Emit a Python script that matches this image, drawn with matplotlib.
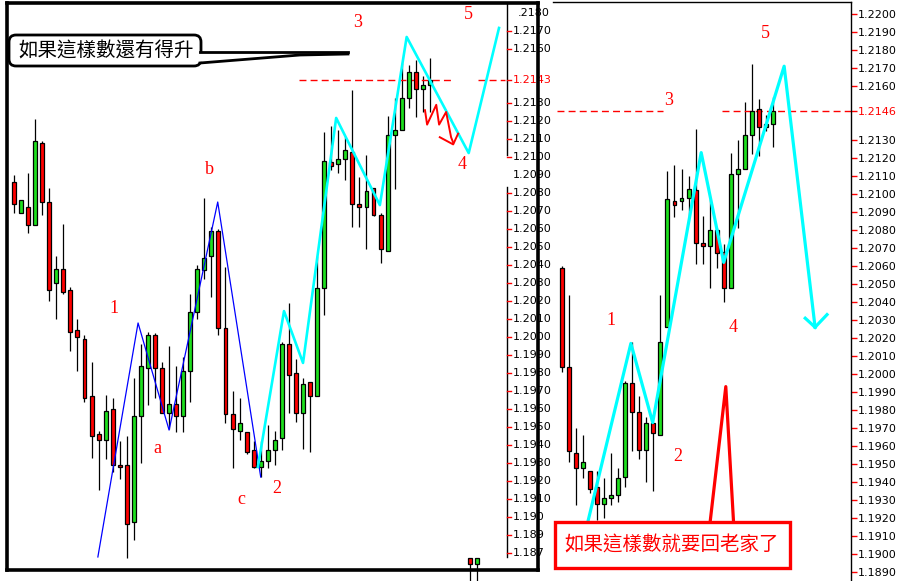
import matplotlib
matplotlib.use("Agg")
import matplotlib.pyplot as plt
import matplotlib.transforms as mtransforms
from matplotlib.patches import FancyBboxPatch, Polygon, Rectangle

# ------------ data ------------

# left chart, bars oldest -> newest
left_open = [1.2086, 1.2069, 1.2072, 1.2062, 1.2108, 1.2075, 1.2030, 1.2038, 1.2026, 1.2004,
             1.1999, 1.1967, 1.1946, 1.1943, 1.1960, 1.1929, 1.1929, 1.1897, 1.1956, 1.1983,
             1.2001, 1.1983, 1.1958, 1.1963, 1.1956, 1.1981, 1.2014, 1.2037, 1.2045, 1.2059,
             1.2005, 1.1957, 1.1948, 1.1947, 1.1937, 1.1928, 1.1931, 1.1937, 1.1944, 1.1996,
             1.1980, 1.1958, 1.1975, 1.1967, 1.2027, 1.2097, 1.2096, 1.2099, 1.2103, 1.2074,
             1.2072, 1.2083, 1.2068, 1.2048, 1.2112, 1.2115, 1.2133, 1.2147, 1.2138, 1.2140]
left_high = [1.2090, 1.2076, 1.2091, 1.2121, 1.2109, 1.2083, 1.2045, 1.2063, 1.2028, 1.2010,
             1.2001, 1.1986, 1.1948, 1.1968, 1.1966, 1.1942, 1.1945, 1.1977, 1.1996, 1.2003,
             1.2002, 1.1986, 1.1995, 1.1984, 1.1989, 1.2024, 1.2040, 1.2077, 1.2061, 1.2060,
             1.2039, 1.1970, 1.1966, 1.1947, 1.1942, 1.1942, 1.1951, 1.1948, 1.1997, 1.2019,
             1.1988, 1.1977, 1.1975, 1.2045, 1.2114, 1.2117, 1.2115, 1.2111, 1.2137, 1.2089,
             1.2101, 1.2083, 1.2069, 1.2123, 1.2133, 1.2152, 1.2151, 1.2154, 1.2145, 1.2155]
left_low = [1.2069, 1.2069, 1.2058, 1.2062, 1.2068, 1.2020, 1.2010, 1.2024, 1.1992, 1.1981,
            1.1964, 1.1933, 1.1915, 1.1932, 1.1925, 1.1921, 1.1877, 1.1887, 1.1930, 1.1962,
            1.1966, 1.1958, 1.1949, 1.1947, 1.1947, 1.1964, 1.2010, 1.2032, 1.2022, 1.2001,
            1.1952, 1.1927, 1.1943, 1.1935, 1.1927, 1.1922, 1.1927, 1.1929, 1.1937, 1.1958,
            1.1953, 1.1938, 1.1936, 1.1967, 1.2012, 1.2093, 1.2091, 1.2087, 1.2061, 1.2061,
            1.2049, 1.2067, 1.2041, 1.2048, 1.2082, 1.2115, 1.2127, 1.2122, 1.2125, 1.2125]
left_close = [1.2074, 1.2076, 1.2062, 1.2109, 1.2075, 1.2026, 1.2038, 1.2025, 1.2003, 1.2000,
              1.1966, 1.1945, 1.1943, 1.1959, 1.1929, 1.1928, 1.1896, 1.1956, 1.1984, 1.2001,
              1.1983, 1.1958, 1.1963, 1.1956, 1.1981, 1.2014, 1.2038, 1.2044, 1.2059, 1.2005,
              1.1957, 1.1949, 1.1952, 1.1936, 1.1928, 1.1931, 1.1937, 1.1943, 1.1996, 1.1979,
              1.1958, 1.1974, 1.1967, 1.2027, 1.2098, 1.2095, 1.2099, 1.2104, 1.2074, 1.2072,
              1.2081, 1.2068, 1.2049, 1.2112, 1.2115, 1.2133, 1.2147, 1.2138, 1.2140, 1.2143]

# two stray bars poking out under the left frame
stray_x = [64.7, 65.7]
stray_open = [1.1877, 1.1874]
stray_high = [1.1877, 1.1877]
stray_low = [1.1864, 1.1864]
stray_close = [1.1874, 1.1877]

# right chart
right_open = [1.2059, 1.2004, 1.1956, 1.1948, 1.1946, 1.1937, 1.1928, 1.1931, 1.1933, 1.1943,
              1.1995, 1.1979, 1.1958, 1.1973, 1.1966, 1.2026, 1.2096, 1.2096, 1.2098, 1.2102,
              1.2073, 1.2071, 1.2080, 1.2068, 1.2048, 1.2111, 1.2114, 1.2133, 1.2147, 1.2137,
              1.2139]
right_high = [1.2060, 1.2044, 1.1970, 1.1966, 1.1946, 1.1946, 1.1942, 1.1956, 1.1948, 1.1996,
              1.2018, 1.1988, 1.1976, 1.1973, 1.2044, 1.2113, 1.2116, 1.2114, 1.2110, 1.2136,
              1.2088, 1.2097, 1.2081, 1.2072, 1.2123, 1.2130, 1.2151, 1.2172, 1.2153, 1.2144,
              1.2154]
right_low = [1.2001, 1.1951, 1.1927, 1.1942, 1.1934, 1.1919, 1.1920, 1.1927, 1.1929, 1.1937,
             1.1957, 1.1953, 1.1940, 1.1935, 1.1966, 1.2026, 1.2087, 1.2091, 1.2088, 1.2061,
             1.2061, 1.2048, 1.2059, 1.2040, 1.2048, 1.2081, 1.2114, 1.2122, 1.2121, 1.2135,
             1.2126]
right_close = [1.2004, 1.1957, 1.1948, 1.1951, 1.1936, 1.1928, 1.1931, 1.1933, 1.1942, 1.1995,
               1.1979, 1.1958, 1.1973, 1.1967, 1.2018, 1.2097, 1.2094, 1.2098, 1.2103, 1.2073,
               1.2071, 1.2080, 1.2067, 1.2048, 1.2111, 1.2114, 1.2133, 1.2146, 1.2137, 1.2139,
               1.2146]

# wave counts drawn on top (bar position, price)
left_blue_x = [11.9, 17.6, 22.0, 28.9, 35.0]
left_blue_y = [1.18778, 1.20078, 1.19483, 1.20750, 1.19222]
left_cyan_x = [34.6, 38.3, 41.0, 45.7, 51.9, 55.7, 64.5, 68.8]
left_cyan_y = [1.19278, 1.20144, 1.19856, 1.21217, 1.20733, 1.21667, 1.21022, 1.21717]
scribble_x = [58.3, 58.6, 59.9, 60.3, 61.3, 62.0, 62.3]
scribble_y = [1.2126, 1.2118, 1.2129, 1.2118, 1.2125, 1.2111, 1.2108]
scribble_head_x = [60.4, 62.3, 63.0]
scribble_head_y = [1.2111, 1.2107, 1.2113]

right_cyan_x = [3.5, 9.8, 12.9, 19.8, 23.0, 31.6, 36.0]
right_cyan_y = [1.1915, 1.2017, 1.1973, 1.2123, 1.2062, 1.2171, 1.2026]
right_head_x = [34.6, 36.0, 37.7]
right_head_y = [1.2031, 1.2026, 1.2033]
spike_x = [20.9, 23.3, 24.5]
spike_y = [1.1912, 1.1993, 1.1911]

left_level = 1.2143
left_level_spans = [(40.4, 62.3), (65.8, 69.6)]
right_level = 1.2146
right_level_spans = [(-0.7, 14.4), (22.8, 41.1)]

left_labels = ['3', '5', '4', 'b', '1', 'a', 'c', '2']
left_label_x = [48.7, 64.5, 63.5, 27.7, 14.2, 20.3, 32.2, 37.3]
left_label_y = [1.2175, 1.2179, 1.2096, 1.2093, 1.2016, 1.1938, 1.1910, 1.1916]
right_labels = ['3', '5', '1', '4', '2']
right_label_x = [15.2, 28.9, 7.0, 24.3, 16.4]
right_label_y = [1.2152, 1.2189, 1.2030, 1.2026, 1.1954]

left_ticks = [1.2170, 1.2160, 1.2143, 1.2130, 1.2120, 1.2110, 1.2100, 1.2090, 1.2080, 1.2070,
              1.2060, 1.2050, 1.2040, 1.2030, 1.2020, 1.2010, 1.2000, 1.1990, 1.1980, 1.1970,
              1.1960, 1.1950, 1.1940, 1.1930, 1.1920, 1.1910, 1.1900, 1.1890, 1.1880]
left_tick_text = ['%.4f' % v for v in left_ticks[:-3]] + ['1.190', '1.189', '1.187']
right_ticks = [1.2200, 1.2190, 1.2180, 1.2170, 1.2160, 1.2146, 1.2130, 1.2120, 1.2110, 1.2100,
               1.2090, 1.2080, 1.2070, 1.2060, 1.2050, 1.2040, 1.2030, 1.2020, 1.2010, 1.2000,
               1.1990, 1.1980, 1.1970, 1.1960, 1.1950, 1.1940, 1.1930, 1.1920, 1.1910, 1.1900,
               1.1890]

top_note = '如果這樣數還有得升'
bottom_note = '如果這樣數就要回老家了'

# ------------ plotting ------------

W, H = 908, 581
RED = '#ff0000'
GREEN = '#1ee01e'
CYAN = '#00ffff'
CJK = ['Noto Sans CJK TC', 'DejaVu Sans']
SERIF = 'Liberation Serif'

fig = plt.figure(figsize=(W / 100, H / 100), dpi=100)
fig.patch.set_facecolor('white')
pix = mtransforms.Affine2D().scale(1, -1).translate(0, H)  # top-left pixel coords


def box(x0, y0, x1, y1):
    return [x0 / W, 1 - y1 / H, (x1 - x0) / W, (y1 - y0) / H]


def candles(ax, xs, o, h, l, c, clip=True):
    for x, oo, hh, ll, cc in zip(xs, o, h, l, c):
        col = GREEN if cc >= oo else RED
        ax.vlines(x, ll, hh, color='black', lw=0.9, zorder=2, clip_on=clip)
        ax.bar(x, max(abs(cc - oo), 0.00003), bottom=min(oo, cc), width=0.56,
               color=col, edgecolor='black', lw=0.9, zorder=3, clip_on=clip)


# left panel
axl = fig.add_axes(box(7, 3, 538, 570))
axl.set_xlim(-0.99, 74.33)
axl.set_ylim(1.187056, 1.218556)
axl.set_xticks([])
axl.set_yticks([])
for s in axl.spines.values():
    s.set_linewidth(2.6)
    s.set_zorder(6)

candles(axl, range(len(left_open)), left_open, left_high, left_low, left_close)
candles(axl, stray_x, stray_open, stray_high, stray_low, stray_close, clip=False)

axl.plot(left_blue_x, left_blue_y, color='#0000ff', lw=0.9, zorder=4)
axl.plot(left_cyan_x, left_cyan_y, color=CYAN, lw=1.9, zorder=4)
axl.plot(scribble_x, scribble_y, color=RED, lw=1.4, zorder=5)
axl.plot(scribble_head_x, scribble_head_y, color=RED, lw=1.4, zorder=5)
for a, b in left_level_spans:
    axl.plot([a, b], [left_level, left_level], color=RED, lw=1, dashes=(5, 3), zorder=2)

for t, x, y in zip(left_labels, left_label_x, left_label_y):
    axl.text(x, y, t, color=RED, fontsize=13, family=SERIF, ha='center', va='center')

# price scale drawn inside the left frame
yt = axl.get_yaxis_transform()
ax_line = (507 - 7) / 531
axl.plot([ax_line, ax_line], [1.21011, 1.218556], transform=yt, color='black', lw=1, clip_on=False)
axl.plot([ax_line, ax_line], [1.18778, 1.20833], transform=yt, color='black', lw=1, clip_on=False)
for v, t in zip(left_ticks, left_tick_text):
    col = RED if v == left_level else 'black'
    if v != 1.2090:
        axl.plot([ax_line, (511 - 7) / 531], [v, v], transform=yt, color=RED, lw=1, clip_on=False)
    axl.text((513 - 7) / 531, v, t, transform=yt, color=col, fontsize=8, family='DejaVu Sans',
             ha='left', va='center', clip_on=False)
axl.text((518 - 7) / 531, 1.2180, '.2180', transform=yt, fontsize=8, family='DejaVu Sans',
         ha='left', va='center', clip_on=False)

# right panel
axr = fig.add_axes(box(553, 2, 851, 581))
axr.set_xlim(-1.28, 41.11)
axr.set_ylim(1.1885, 1.220667)
axr.set_xticks([])
axr.spines['left'].set_visible(False)
axr.spines['bottom'].set_visible(False)
axr.spines['top'].set_linewidth(1)
axr.spines['right'].set_linewidth(1)
axr.yaxis.tick_right()
axr.set_yticks(right_ticks)
axr.set_yticklabels(['%.4f' % v for v in right_ticks])
axr.tick_params(axis='y', color=RED, length=4, width=1, labelsize=8, pad=1, labelcolor='black')
for lab, v in zip(axr.get_yticklabels(), right_ticks):
    lab.set_family('DejaVu Sans')
    if v == right_level:
        lab.set_color(RED)

candles(axr, range(len(right_open)), right_open, right_high, right_low, right_close)
axr.plot(right_cyan_x, right_cyan_y, color=CYAN, lw=2.3, zorder=4)
axr.plot([right_head_x[0], right_head_x[1]], [right_head_y[0], right_head_y[1]], color=CYAN, lw=2.3, zorder=4)
axr.plot([right_head_x[2], right_head_x[1]], [right_head_y[2], right_head_y[1]], color=CYAN, lw=2.3, zorder=4)
axr.plot(spike_x, spike_y, color=RED, lw=2.3, zorder=4)
for a, b in right_level_spans:
    axr.plot([a, b], [right_level, right_level], color=RED, lw=1, dashes=(5, 3), zorder=2)

for t, x, y in zip(right_labels, right_label_x, right_label_y):
    axr.text(x, y, t, color=RED, fontsize=13, family=SERIF, ha='center', va='center')

# speech callout, top left
callout = FancyBboxPatch((9, 35), 192, 31, boxstyle='round,pad=0,rounding_size=7',
                         transform=pix, fc='white', ec='black', lw=2, zorder=10)
fig.add_artist(callout)
fig.add_artist(Polygon([(198, 53), (348, 53), (348, 55), (198, 62)], closed=True,
                       transform=pix, fc='white', ec='none', zorder=11))
fig.add_artist(plt.Line2D([200, 348], [52, 52], transform=pix, color='black', lw=2, zorder=12))
fig.add_artist(plt.Line2D([200, 300, 348], [63, 55, 54], transform=pix, color='black', lw=2, zorder=12))
fig.text(106, 51, top_note, transform=pix, fontsize=14, family=CJK,
         ha='center', va='center', zorder=13)

# red note box, bottom right
fig.add_artist(Rectangle((555, 522), 235, 46, transform=pix, fc='white', ec=RED, lw=2.4, zorder=10))
fig.text(672, 545, bottom_note, transform=pix, fontsize=14, family=CJK, color=RED,
         ha='center', va='center', zorder=13)

fig.savefig('out.png', dpi=100)
